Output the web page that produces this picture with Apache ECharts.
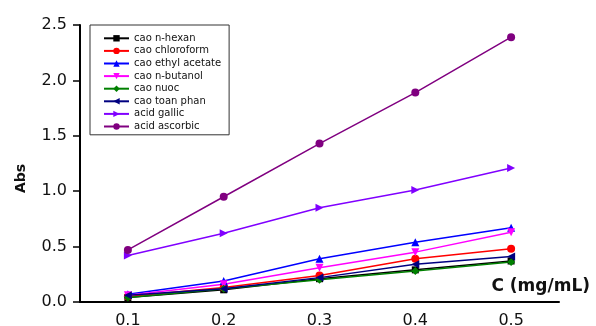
<!DOCTYPE html>
<html><head><meta charset="utf-8">
<script src="https://cdn.jsdelivr.net/npm/echarts@6/dist/echarts.min.js"></script>
<style>html,body{margin:0;padding:0;background:#fff}#c{width:596px;height:326px}</style>
</head><body><div id="c"></div>
<script>
const categories = ['0.1','0.2','0.3','0.4','0.5'];
const yTicks = [0, 0.5, 1.0, 1.5, 2.0, 2.5];
const caoNHexan = [0.04, 0.11, 0.21, 0.29, 0.37];
const caoChloroform = [0.05, 0.13, 0.24, 0.39, 0.48];
const caoEthylAcetate = [0.07, 0.19, 0.39, 0.54, 0.67];
const caoNButanol = [0.06, 0.16, 0.31, 0.45, 0.63];
const caoNuoc = [0.04, 0.12, 0.20, 0.28, 0.36];
const caoToanPhan = [0.06, 0.12, 0.22, 0.34, 0.41];
const acidGallic = [0.42, 0.62, 0.85, 1.01, 1.21];
const acidAscorbic = [0.47, 0.95, 1.43, 1.89, 2.39];
const seriesNames = ['cao n-hexan','cao chloroform','cao ethyl acetate','cao n-butanol','cao nuoc','cao toan phan','acid gallic','acid ascorbic'];
const seriesData = [caoNHexan, caoChloroform, caoEthylAcetate, caoNButanol, caoNuoc, caoToanPhan, acidGallic, acidAscorbic];
const colors = ['#000000','#ff0000','#0000ff','#ff00ff','#008000','#000080','#8000ff','#800080'];
const symbols = ['rect','circle','triangle','triangle','diamond','triangle','triangle','circle'];
const rotations = [0,0,0,180,0,90,-90,0];
const sizes = [7,8,8,8,8,8,8,8];

const chart = echarts.init(document.getElementById('c'));
chart.setOption({
  animation: false,
  grid: {left: 80, right: 37, top: 25, bottom: 24, outerBoundsMode: 'none', containLabel: false},
  legend: {
    orient: 'vertical', left: 90, top: 25,
    padding: [7, 8, 2, 13],
    itemWidth: 25, itemHeight: 8, itemGap: 0,
    borderColor: '#333', borderWidth: 1,
    textStyle: {fontFamily: 'DejaVu Sans', fontSize: 10, color: '#111', lineHeight: 12.6},
    data: seriesNames
  },
  xAxis: {
    type: 'category', data: categories, boundaryGap: true,
    axisLine: {lineStyle: {color: '#000', width: 2}},
    axisTick: {alignWithLabel: true, length: 6, lineStyle: {color: '#000', width: 1.5}},
    axisLabel: {fontFamily: 'DejaVu Sans', fontSize: 16, color: '#111', margin: 11},
    name: 'C (mg/mL)', nameLocation: 'end', nameGap: 31,
    nameTextStyle: {fontFamily: 'DejaVu Sans', fontSize: 17, fontWeight: 'bold', color: '#111', align: 'right', verticalAlign: 'bottom', padding: [0,0,7,0]}
  },
  yAxis: {
    type: 'value', min: yTicks[0], max: yTicks[yTicks.length-1], interval: 0.5,
    splitLine: {show: false},
    axisLine: {show: true, lineStyle: {color: '#000', width: 2}},
    axisTick: {show: true, length: 7, lineStyle: {color: '#000', width: 1.5}},
    axisLabel: {fontFamily: 'DejaVu Sans', fontSize: 16, color: '#111', margin: 13, formatter: v => v.toFixed(1)},
    name: 'Abs', nameLocation: 'middle', nameGap: 52, nameRotate: 90,
    nameTextStyle: {fontFamily: 'DejaVu Sans', fontSize: 14, fontWeight: 'bold', color: '#111', padding: [0, 30, 0, 0]}
  },
  series: seriesNames.map((n, i) => ({
    name: n, type: 'line', data: seriesData[i],
    color: colors[i], symbol: symbols[i], symbolRotate: rotations[i], symbolSize: sizes[i],
    showAllSymbol: true,
    lineStyle: {width: 1.5, color: colors[i]},
    itemStyle: {color: colors[i]}
  }))
});
</script></body></html>
